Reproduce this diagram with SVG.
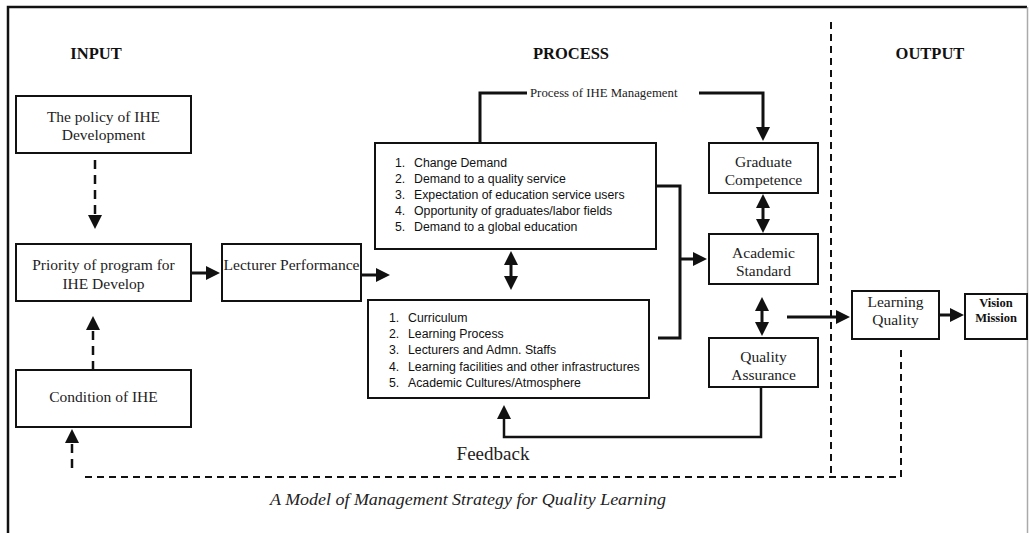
<svg xmlns="http://www.w3.org/2000/svg" width="1029" height="533" viewBox="0 0 1029 533">
<style>
.box{fill:#fff;stroke:#111;stroke-width:2}
.t{font-family:"Liberation Serif",serif;font-size:15.5px;fill:#222;text-anchor:middle}
.h{font-family:"Liberation Serif",serif;font-size:16.5px;font-weight:bold;fill:#111;text-anchor:middle}
.l{font-family:"Liberation Sans",Arial,sans-serif;font-size:12.3px;fill:#111}
.c{fill:none;stroke:#111;stroke-width:3}
.d{fill:none;stroke:#111;stroke-width:2.5;stroke-dasharray:9 6}
.dl{fill:none;stroke:#111;stroke-width:2;stroke-dasharray:7 5}
</style>
<defs>
<marker id="ah" markerUnits="userSpaceOnUse" viewBox="0 0 14 14" refX="1" refY="7" markerWidth="14" markerHeight="14" orient="auto-start-reverse">
<path d="M0,0 L14,7 L0,14 z" fill="#111"/>
</marker>
</defs>
<rect x="0" y="0" width="1029" height="533" fill="#fff"/>
<g id="frame">
<path d="M8,533 V7 H1027" fill="none" stroke="#111" stroke-width="2.5"/>
<path d="M1027.5,7 V533" fill="none" stroke="#aaa" stroke-width="1.5"/>
</g>
<g id="headers">
<text class="h" x="96" y="59">INPUT</text>
<text class="h" x="571" y="59">PROCESS</text>
<text class="h" x="930" y="59">OUTPUT</text>
</g>
<g id="connectors">
<path class="d" d="M95,160 V216" marker-end="url(#ah)"/>
<path class="d" d="M93,370 V329" marker-end="url(#ah)"/>
<path class="d" d="M72,468 V442" marker-end="url(#ah)"/>
<path class="c" d="M191,273 H207" marker-end="url(#ah)"/>
<path class="c" d="M361,275 H377" marker-end="url(#ah)"/>
<path class="c" d="M480,143 V93 H527"/>
<path class="c" d="M699,93 H763 V128" marker-end="url(#ah)"/>
<path class="c" d="M511,264 V277" marker-start="url(#ah)" marker-end="url(#ah)"/>
<path class="c" d="M763,207 V220" marker-start="url(#ah)" marker-end="url(#ah)"/>
<path class="c" d="M762,310 V323" marker-start="url(#ah)" marker-end="url(#ah)"/>
<path class="c" d="M656,186 H680 V338 H658"/>
<path class="c" d="M680,259 H694" marker-end="url(#ah)"/>
<path fill="none" stroke="#111" stroke-width="2.5" d="M761,387 V437 H504 V418" marker-end="url(#ah)"/>
<path class="c" d="M787,317 H837" marker-end="url(#ah)"/>
<path class="c" d="M939,315 H951" marker-end="url(#ah)"/>
<path class="dl" d="M831,22 V477"/>
<path class="dl" d="M901,350 V477 H82"/>
</g>
<g id="policy">
<rect class="box" x="16" y="96" width="175" height="57"/>
<text class="t" x="103.5" y="122">The policy of IHE</text>
<text class="t" x="103.5" y="140">Development</text>
</g>
<g id="priority">
<rect class="box" x="16" y="244" width="175" height="57"/>
<text class="t" x="103.5" y="270">Priority of program for</text>
<text class="t" x="103.5" y="289">IHE Develop</text>
</g>
<g id="condition">
<rect class="box" x="16" y="370" width="175" height="57"/>
<text class="t" x="103.5" y="402">Condition of IHE</text>
</g>
<g id="lecturer">
<rect class="box" x="222" y="244" width="139" height="57"/>
<text class="t" x="291.5" y="270" textLength="136" lengthAdjust="spacingAndGlyphs">Lecturer Performance</text>
</g>
<g id="demands">
<rect class="box" x="375" y="143" width="281" height="106"/>
<text class="l" x="395" y="167">1.</text><text class="l" x="414" y="167">Change Demand</text>
<text class="l" x="395" y="183">2.</text><text class="l" x="414" y="183">Demand to a quality service</text>
<text class="l" x="395" y="199">3.</text><text class="l" x="414" y="199">Expectation of education service users</text>
<text class="l" x="395" y="215">4.</text><text class="l" x="414" y="215">Opportunity of graduates/labor fields</text>
<text class="l" x="395" y="231">5.</text><text class="l" x="414" y="231">Demand to a global education</text>
</g>
<g id="resources">
<rect class="box" x="368" y="300" width="281" height="98"/>
<text class="l" x="389" y="322">1.</text><text class="l" x="408" y="322">Curriculum</text>
<text class="l" x="389" y="338">2.</text><text class="l" x="408" y="338">Learning Process</text>
<text class="l" x="389" y="354">3.</text><text class="l" x="408" y="354">Lecturers and Admn. Staffs</text>
<text class="l" x="389" y="371">4.</text><text class="l" x="408" y="371">Learning facilities and other infrastructures</text>
<text class="l" x="389" y="387">5.</text><text class="l" x="408" y="387">Academic Cultures/Atmosphere</text>
</g>
<g id="mgmt-label">
<text x="530" y="97" font-family="Liberation Serif, serif" font-size="12.8" fill="#222">Process of IHE Management</text>
</g>
<g id="graduate">
<rect class="box" x="709" y="143" width="109" height="50"/>
<text class="t" x="763.5" y="167">Graduate</text>
<text class="t" x="763.5" y="185">Competence</text>
</g>
<g id="academic">
<rect class="box" x="709" y="234" width="109" height="50"/>
<text class="t" x="763.5" y="258">Academic</text>
<text class="t" x="763.5" y="276">Standard</text>
</g>
<g id="quality">
<rect class="box" x="709" y="338" width="109" height="49"/>
<text class="t" x="763.5" y="362">Quality</text>
<text class="t" x="763.5" y="380">Assurance</text>
</g>
<g id="learning">
<rect class="box" x="852" y="291" width="87" height="48"/>
<text class="t" x="895.5" y="307" fill="#444">Learning</text>
<text class="t" x="895.5" y="325" fill="#444">Quality</text>
</g>
<g id="vision">
<rect class="box" x="965" y="294" width="62" height="45"/>
<text x="996" y="307" text-anchor="middle" font-family="Liberation Serif, serif" font-size="12.5" font-weight="bold" fill="#111">Vision</text>
<text x="996" y="322" text-anchor="middle" font-family="Liberation Serif, serif" font-size="12.5" font-weight="bold" fill="#111">Mission</text>
</g>
<g id="labels">
<text x="493" y="460" text-anchor="middle" font-family="Liberation Serif, serif" font-size="19" fill="#222">Feedback</text>
<text x="468" y="505" text-anchor="middle" font-family="Liberation Serif, serif" font-size="16" font-style="italic" fill="#222" textLength="396" lengthAdjust="spacingAndGlyphs">A Model of Management Strategy for Quality Learning</text>
</g>
</svg>
